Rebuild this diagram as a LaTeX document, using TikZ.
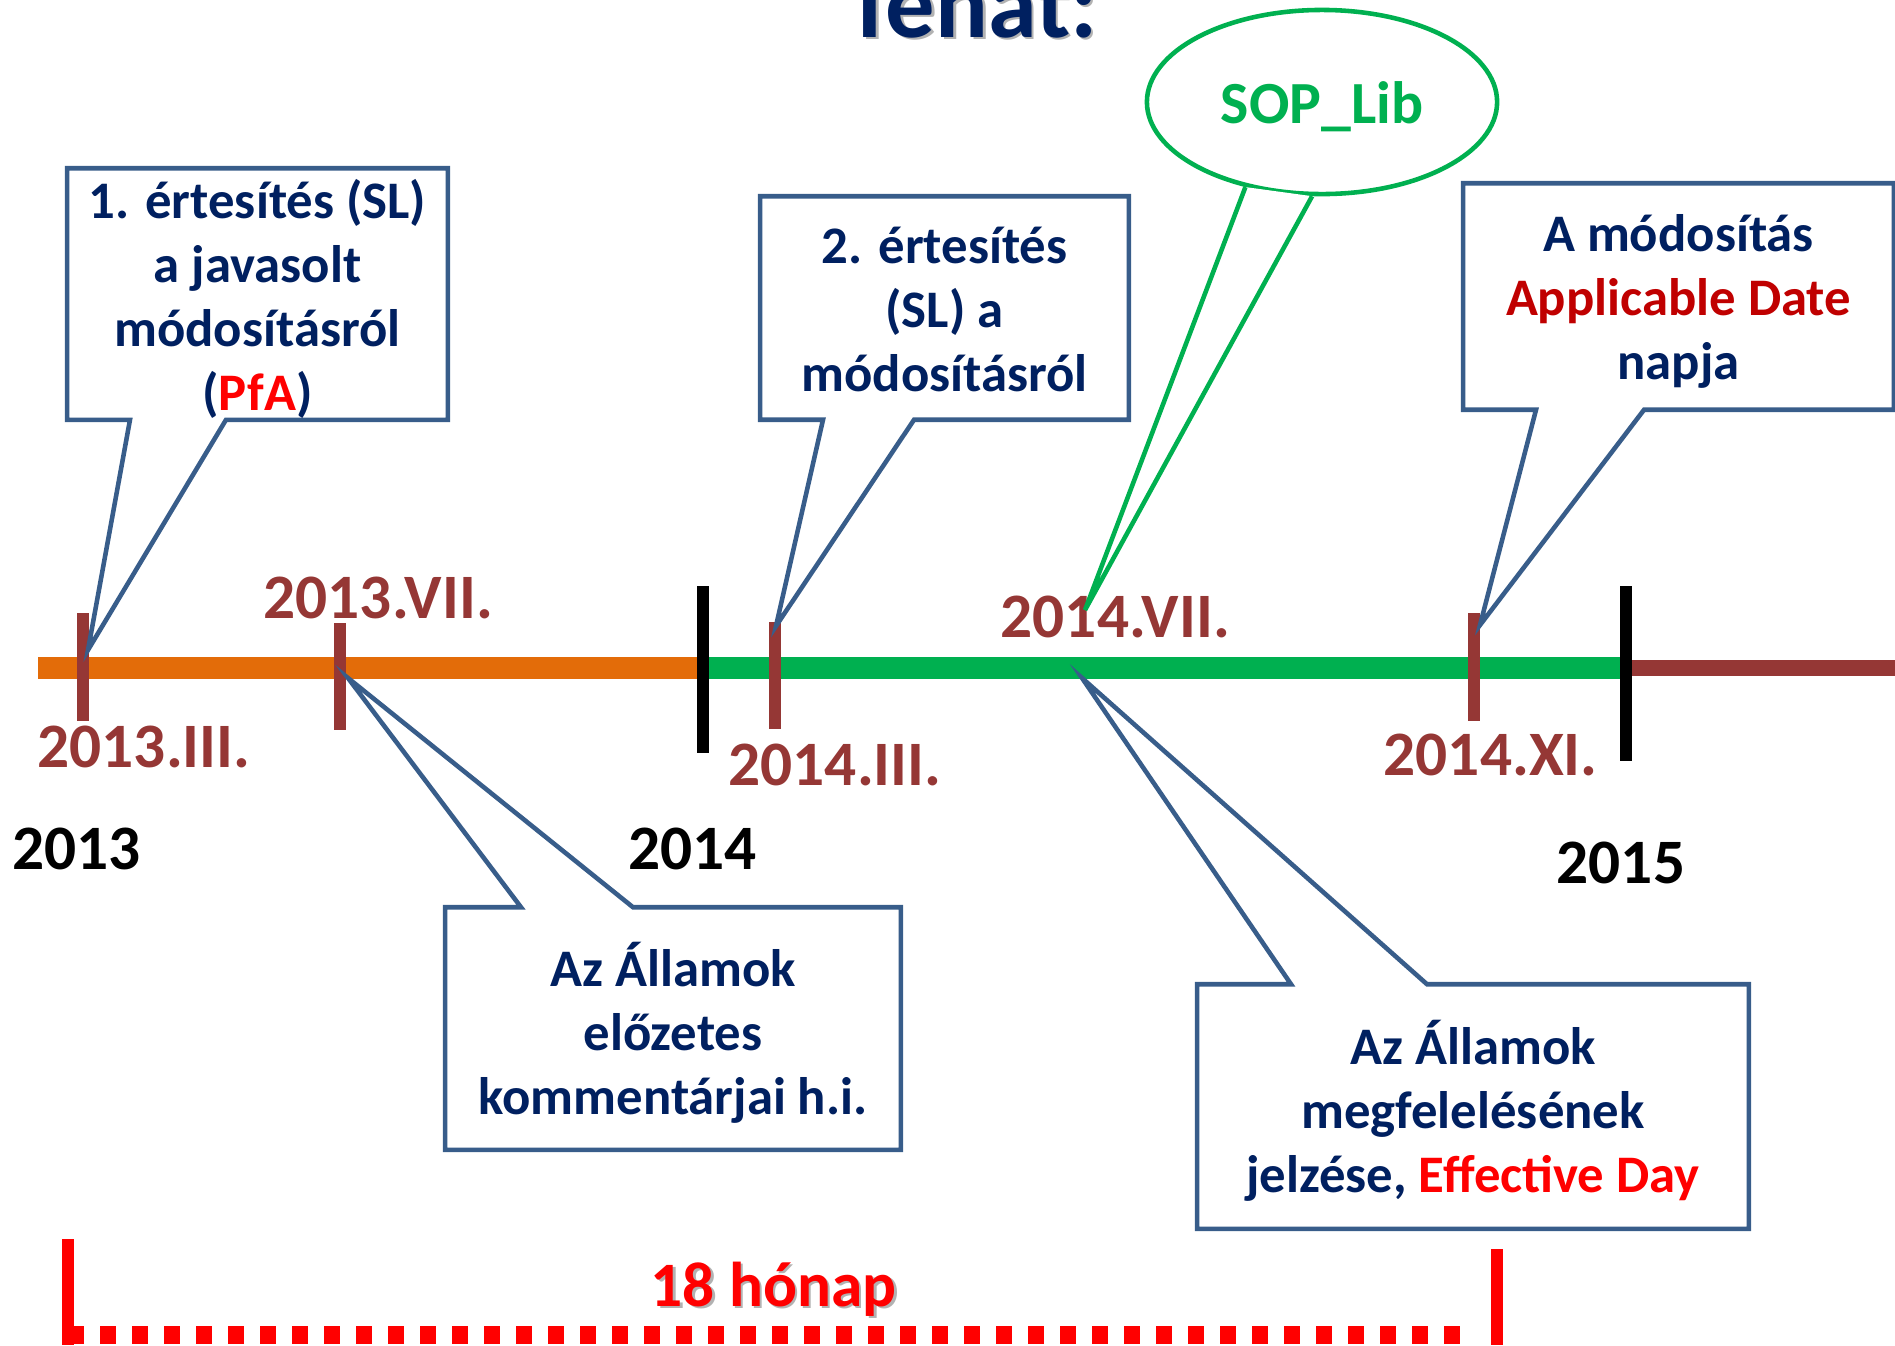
\documentclass[tikz,border=0pt]{standalone}
\usepackage{fontspec}
\setmainfont{Carlito}
\usetikzlibrary{positioning}
\usetikzlibrary{shapes.geometric}
\usetikzlibrary{backgrounds}
\definecolor{navy}{RGB}{0,32,96}
\definecolor{boxblue}{RGB}{56,93,138}
\definecolor{barorange}{RGB}{227,108,9}
\definecolor{bargreen}{RGB}{0,176,80}
\definecolor{brownred}{RGB}{149,55,53}
\definecolor{darkred}{RGB}{192,0,0}
\tikzset{callbox/.style = {draw=boxblue, line width=1.3pt, fill=white,
                           line join=miter},
         boxshape/.style = {inner sep=0pt},
         boxtext/.style = {inner sep=0pt, align=center, text=navy, yshift=-0.04cm,
                           font=\bfseries\fontsize{15}{18.2}\selectfont},
         datelabel/.style = {anchor=base west, inner sep=0pt, text=brownred,
                             font=\bfseries\fontsize{18}{21.6}\selectfont},
         yearlabel/.style = {anchor=base west, inner sep=0pt,
                             font=\bfseries\fontsize{18}{21.6}\selectfont},
         monthtick/.style = {draw=brownred, line width=3.4pt},
         yeartick/.style = {draw=black, line width=3.4pt},
         shadowtext/.style = {text=black!30, xshift=0.025cm, yshift=-0.025cm}}

\begin{document}
\begin{tikzpicture}[x=0.01cm, y=-0.01cm]
    \useasboundingbox (0, 0) rectangle (1895, 1345);
    \node [anchor=base west, inner sep=0pt, shadowtext,
           font=\bfseries\fontsize{28}{34}\selectfont] (title-s) at (845, 37) {Tehát:};
    \node [anchor=base west, inner sep=0pt, text=navy,
           font=\bfseries\fontsize{28}{34}\selectfont] (title) at (845, 37) {Tehát:};
    % timeline
    \draw [barorange, line width=6.3pt] (38, 668) -- (703, 668);
    \draw [bargreen, line width=6.3pt] (703, 668) -- (1626, 668);
    \draw [brownred, line width=4.3pt] (1626, 668) -- (1895, 668);
    \draw [yeartick] (703, 586) -- (703, 753);
    \draw [yeartick] (1626, 586) -- (1626, 761);
    \draw [monthtick] (83, 613) -- (83, 721);
    \draw [monthtick] (340, 623) -- (340, 730);
    \draw [monthtick] (775, 622) -- (775, 729);
    \draw [monthtick] (1474, 613) -- (1474, 721);
    \coordinate (m1) at (88, 650);
    \coordinate (m2) at (348, 678);
    \coordinate (m3) at (776, 626);
    \coordinate (m4) at (1085, 610);
    \coordinate (m5) at (1082, 678);
    \coordinate (m6) at (1480, 625);
    % labels
    \node [datelabel] (d1) at (37, 767) {2013.III.};
    \node [datelabel] (d2) at (263, 618) {2013.VII.};
    \node [datelabel] (d3) at (728, 785) {2014.III.};
    \node [datelabel] (d4) at (1000, 637) {2014.VII.};
    \node [datelabel] (d5) at (1383, 775) {2014.XI.};
    \node [yearlabel] (y1) at (12, 869) {2013};
    \node [yearlabel] (y2) at (628, 869) {2014};
    \node [yearlabel] (y3) at (1556, 883) {2015};
    % callouts
    \node [boxshape, minimum width=3.79cm, minimum height=2.50cm] (pfa) at (257.5, 294) {};
    \node [boxshape, minimum width=3.67cm, minimum height=2.22cm] (sl) at (944.5, 308) {};
    \node [boxshape, minimum width=4.54cm, minimum height=2.41cm] (komm) at (673, 1028.5) {};
    \node [boxshape, minimum width=4.29cm, minimum height=2.25cm] (appl) at (1678.5, 296.5) {};
    \node [boxshape, minimum width=5.50cm, minimum height=2.43cm] (eff) at (1473, 1106.5) {};
    \draw [callbox] (pfa.north west) -- (pfa.north east) -- (pfa.south east)
      -- (226, 0 |- pfa.south) -- (m1) -- (130, 0 |- pfa.south) -- (pfa.south west) -- cycle;
    \draw [callbox] (sl.north west) -- (sl.north east) -- (sl.south east)
      -- (914, 0 |- sl.south) -- (m3) -- (823, 0 |- sl.south) -- (sl.south west) -- cycle;
    \draw [callbox] (komm.south west) -- (komm.south east) -- (komm.north east)
      -- (633, 0 |- komm.north) -- (m2) -- (521, 0 |- komm.north) -- (komm.north west) -- cycle;
    \draw [callbox] (appl.north west) -- (appl.north east) -- (appl.south east)
      -- (1644, 0 |- appl.south) -- (m6) -- (1536, 0 |- appl.south) -- (appl.south west) -- cycle;
    \draw [callbox] (eff.south west) -- (eff.south east) -- (eff.north east)
      -- (1427, 0 |- eff.north) -- (m5) -- (1291, 0 |- eff.north) -- (eff.north west) -- cycle;
    \node [boxtext, yshift=-0.01cm] (pfa-t) at (pfa)
          {1. értesítés (SL)\\a javasolt\\módosításról\\(\textcolor{red}{PfA})};
    \node [boxtext, yshift=0.03cm] (sl-t) at (sl) {2. értesítés\\(SL) a\\módosításról};
    \node [boxtext] (komm-t) at (komm) {Az Államok\\előzetes\\kommentárjai h.i.};
    \node [boxtext, yshift=-0.01cm] (appl-t) at (appl)
          {A módosítás\\\textcolor{darkred}{Applicable Date}\\napja};
    \node [boxtext] (eff-t) at (eff)
          {Az Államok\\megfelelésének\\jelzése, \textcolor{red}{Effective Day}};
    % SOP bubble
    \node [ellipse, draw=bargreen, line width=1.3pt, fill=white, inner sep=0pt,
           minimum width=3.5cm, minimum height=1.84cm] (sop) at (1322, 102) {};
    \fill [white] (sop.228) -- (m4) -- (sop.264) -- cycle;
    \draw [bargreen, line width=1.3pt, line join=miter] (sop.228) -- (m4) -- (sop.264);
    \node [inner sep=0pt, text=bargreen, yshift=-0.05cm,
           font=\bfseries\fontsize{17}{20}\selectfont] (sop-t) at (sop) {SOP\_Lib};
    % 18 months
    \coordinate (s1) at (68, 1345);
    \coordinate (s2) at (1497, 1345);
    \draw [red, line width=3.4pt] (68, 1239) -- (s1);
    \draw [red, line width=3.4pt] (1497, 1249) -- (s2);
    \draw [red, line width=5.1pt, dash pattern=on 4.55pt off 4.55pt] (68, 1335) -- (1460, 1335);
    \node [anchor=base west, inner sep=0pt, shadowtext,
           font=\bfseries\fontsize{18}{21.6}\selectfont] (honap-s) at (650, 1306) {18 hónap};
    \node [anchor=base west, inner sep=0pt, text=red,
           font=\bfseries\fontsize{18}{21.6}\selectfont] (honap) at (650, 1306) {18 hónap};
  \end{tikzpicture}
\end{document}
